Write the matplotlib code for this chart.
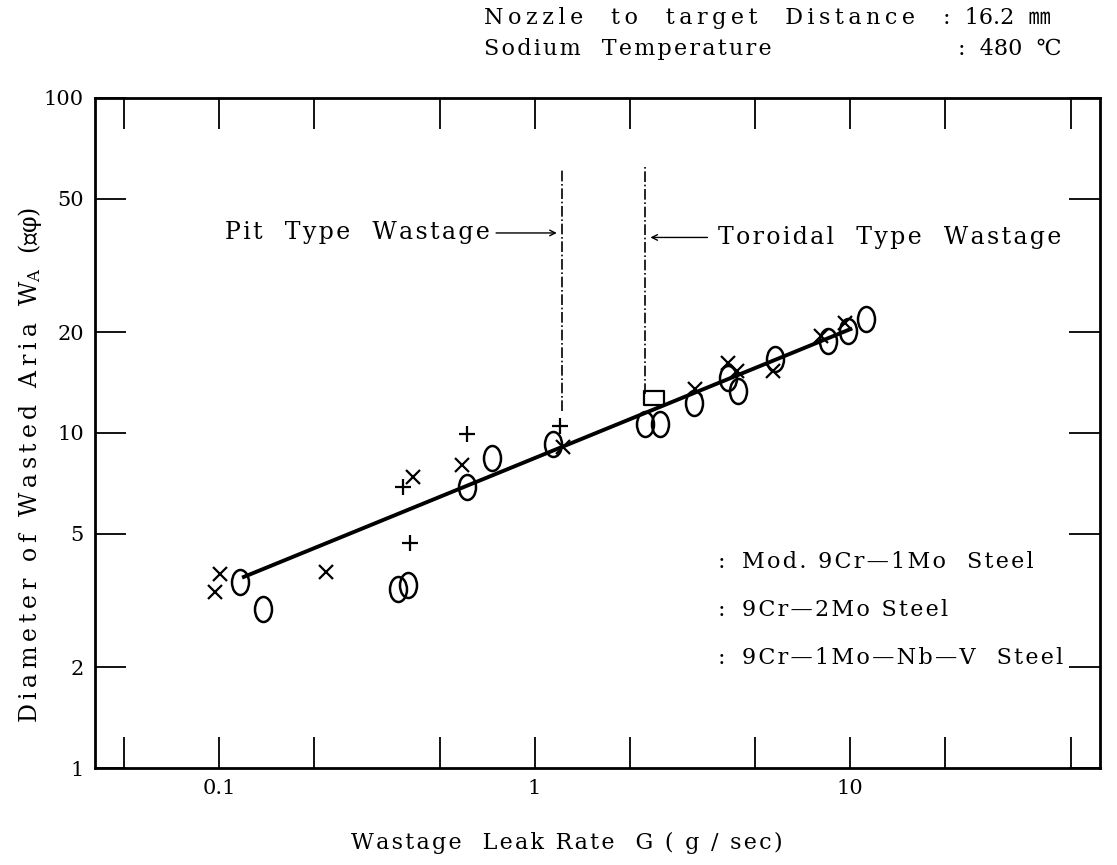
import matplotlib
matplotlib.use("Agg")
import matplotlib.pyplot as plt
from matplotlib.path import Path
from matplotlib.transforms import Affine2D

plt.rcParams['font.family'] = ['DejaVu Serif', 'Noto Sans CJK JP']
plt.rcParams['mathtext.fontset'] = 'dejavuserif'

# measured points (G in g/sec, W_A in mm)
circle_g = [0.117, 0.138, 0.369, 0.397, 0.611, 0.733, 1.14, 2.24, 2.50, 3.20,
            4.10, 4.41, 5.78, 8.51, 9.86, 11.2]
circle_w = [3.59, 2.98, 3.42, 3.52, 6.91, 8.39, 9.24, 10.6, 10.6, 12.3,
            14.6, 13.3, 16.6, 18.8, 20.2, 21.9]

cross_g = [0.101, 0.097, 0.218, 0.412, 0.589, 1.23, 3.23, 4.10, 4.38, 5.70, 8.06, 9.64]
cross_w = [3.79, 3.35, 3.85, 7.41, 8.05, 9.1, 13.5, 16.2, 15.3, 15.3, 19.5, 21.3]

plus_g = [0.383, 0.403, 0.611, 1.205]
plus_w = [6.92, 4.70, 9.9, 10.5]

square_g = [2.39]
square_w = [12.7]

# fitted line
fit_g = [0.12, 10.0]
fit_w = [3.72, 20.4]

# boundaries between pit / toroidal wastage
pit_limit = 1.22
toroidal_limit = 2.24

legend_labels = ['Mod. 9Cr\u20141Mo  Steel', '9Cr\u20142Mo Steel', '9Cr\u20141Mo\u2014Nb\u2014V  Steel']

x_ticks = [0.05, 0.1, 0.2, 0.5, 1, 2, 5, 10, 20, 50]
x_labels = {0.1: '0.1', 1: '1', 10: '10'}
y_ticks = [1, 2, 5, 10, 20, 50, 100]


def spaced(s, gap='\u200a'):
    # typewriter-like letter spacing of the original
    return gap.join(s)


ellipse = Path.unit_circle().transformed(Affine2D().scale(0.68, 1.0))
rect = Path.unit_rectangle().transformed(Affine2D().translate(-0.5, -0.5).scale(1.0, 0.7))

fig = plt.figure(figsize=(11.17, 8.65), dpi=100)
ax = fig.add_axes([0.085, 0.112, 0.900, 0.775])
ax.set_xscale('log')
ax.set_yscale('log')
ax.set_xlim(0.0405, 61.9)
ax.set_ylim(1, 100)

ax.plot(fit_g, fit_w, color='black', lw=2.8, zorder=2)
ax.plot(circle_g, circle_w, ls='none', marker=ellipse, ms=18, mfc='none', mec='black', mew=1.8, zorder=3)
ax.plot(cross_g, cross_w, ls='none', marker='x', ms=10, mec='black', mew=1.6, zorder=3)
ax.plot(plus_g, plus_w, ls='none', marker='+', ms=12, mec='black', mew=1.6, zorder=3)
ax.plot(square_g, square_w, ls='none', marker=rect, ms=14, mfc='none', mec='black', mew=1.6, zorder=3)

# boundary lines
ax.plot([pit_limit, pit_limit], [11.6, 61], color='black', lw=1.2, ls='-.')
ax.plot([toroidal_limit, toroidal_limit], [13.1, 63], color='black', lw=1.2, ls='-.')

ax.annotate('', xy=(1.2, 39.5), xytext=(0.74, 39.5),
            arrowprops=dict(arrowstyle='->', lw=1.0, color='black'))
ax.text(0.72, 39.5, spaced('Pit  Type  Wastage'), ha='right', va='center', fontsize=17)
ax.annotate('', xy=(2.28, 38.3), xytext=(3.6, 38.3),
            arrowprops=dict(arrowstyle='->', lw=1.0, color='black'))
ax.text(3.82, 38.3, spaced('Toroidal  Type  Wastage'), ha='left', va='center', fontsize=17)

# legend (text only, the symbols are blank in the original)
for i, lab in enumerate(legend_labels):
    y = 1 - (562 + 48 * i) / 865
    fig.text(718 / 1117, y, ':', ha='left', va='center', fontsize=16)
    fig.text(742 / 1117, y, spaced(lab), ha='left', va='center', fontsize=16)

ax.set_xticks(x_ticks)
ax.set_xticklabels([x_labels.get(t, '') for t in x_ticks])
ax.set_yticks(y_ticks)
ax.set_yticklabels([str(t) for t in y_ticks])
ax.minorticks_off()
ax.tick_params(which='major', direction='in', length=22, width=1.3,
               top=True, right=True, labelsize=15, pad=8)
for s in ax.spines.values():
    s.set_linewidth(2.0)

fig.text(0.507, 1 - 843 / 865, spaced('Wastage  Leak Rate  G ( g \u2215 sec)'),
         ha='center', va='center', fontsize=16)
fig.text(0.027, 0.462, spaced('Diameter of Wasted Aria W', '\u2009') + '$_{\\rm A}$  (\u339c\u03c6)',
         rotation=90, ha='center', va='center', fontsize=17)

fig.text(484 / 1117, 1 - 18 / 865, spaced('Nozzle  to  target  Distance', '\u2009'),
         ha='left', va='center', fontsize=16)
fig.text(943 / 1117, 1 - 18 / 865, ':  16.2  \u339c', ha='left', va='center', fontsize=16)
fig.text(484 / 1117, 1 - 49 / 865, spaced('Sodium  Temperature'),
         ha='left', va='center', fontsize=16)
fig.text(958 / 1117, 1 - 49 / 865, ':  480  \u2103', ha='left', va='center', fontsize=16)

fig.savefig('out.png', dpi=100)
